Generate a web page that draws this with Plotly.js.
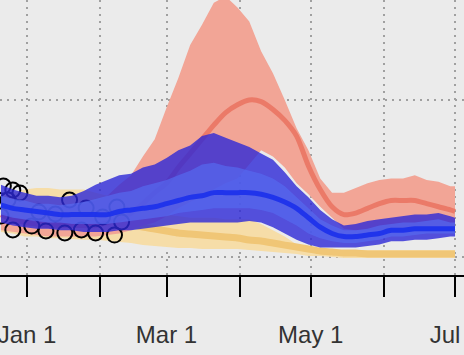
<!DOCTYPE html>
<html>
<head>
<meta charset="utf-8">
<script src="https://cdn.plot.ly/plotly-3.0.1.min.js"></script>
<style>html,body{margin:0;padding:0;background:#ebebeb;}#chart{width:464px;height:355px;}</style>
</head>
<body>
<div id="chart"></div>
<script>
const dates = ['2020-12-21','2020-12-26','2020-12-31','2021-01-05','2021-01-10','2021-01-15','2021-01-20','2021-01-25','2021-01-30','2021-02-04',
  '2021-02-09','2021-02-14','2021-02-19','2021-02-24','2021-03-01','2021-03-06','2021-03-11','2021-03-16','2021-03-21','2021-03-26',
  '2021-03-31','2021-04-05','2021-04-10','2021-04-15','2021-04-20','2021-04-25','2021-04-30','2021-05-05','2021-05-10','2021-05-15',
  '2021-05-20','2021-05-25','2021-05-30','2021-06-04','2021-06-09','2021-06-14','2021-06-19','2021-06-24','2021-06-29','2021-07-01'];

const redUpper = [33,32,31,31,32,32,33,34,36,39, 46,52,64,75,95,114,135,148,162,166, 159,150,131,117,100,82,68,50,41,41, 44,47,49,50,50,52,49,48,45,45];
const redMid   = [27,24,22,21,20,20,20,20,20,22, 24,28,34,41,47,57,66,75,84,92, 97,100,99,94,87,77,58,43,32,27, 28,31,34,36,36,36,34,32,30,29];
const redLower = [17,16,15,14,13,13,13,13,13,14, 15,17,20,22,26,31,35,39,43,47, 50,59,68,64,57,47,40,32,25,18, 17,17,17,17,17,17,17,17,17,17];

const blueUpper      = [46,43,41,39,39,38,39,42,46,49, 52,53,57,59,63,68,71,77,79,76, 73,70,66,62,54,45,38,30,24,20, 21,23,24,25,26,27,27,28,26,25];
const blueInnerUpper = [39,37,36,34,34,33,34,35,37,39, 41,42,45,47,49,52,55,59,60,58, 57,55,53,50,45,38,31,24,20,17, 17,18,20,21,22,22,23,24,22,22];
const blueMid        = [33,31,30,29,28,27,27,27,27,27, 29,30,31,32,34,36,38,39,41,41, 41,41,40,38,35,31,25,19,15,13, 13,14,15,17,17,18,18,18,18,18];
const blueInnerLower = [27,25,24,23,22,22,21,21,21,21, 22,23,24,25,26,28,29,30,31,31, 31,31,30,28,24,20,15,12,10,9, 9,10,11,13,13,14,15,15,15,15];
const blueLower      = [22,20,19,18,18,17,17,16,16,16, 17,17,18,19,20,21,22,22,22,22, 22,23,22,19,15,11,8,6,6,6, 6,7,8,10,10,11,11,12,13,13];

const yellowUpper = [39,41,43,44,44,43,43,43,41,39, 36,33,30,28,27,26,25,25,25,24, 24,24,21,17,13,8,6,4.5,4,4, 4,4.5,4.5,4.5,4.5,4.5,4.5,4.5,4.5,4.5];
const yellowMid   = [27,27,27,27,27,27,26,25.5,25,23.6, 22.3,21,19,17.8,16.6,15.3,14.7,14,13.4,12.7, 12.1,10.8,10.2,8.9,7.6,6.4,5.1,3.8,3.2,2.5, 2.5,1.9,1.9,1.9,1.9,1.9,1.9,1.9,1.9,1.9];
const yellowLower = [16,15,13,13,12,12,11.5,11,11,10, 9.6,8.9,7.6,7,6.4,5.7,5.7,5.1,5.1,5.1, 5.1,4.5,3.8,3.2,2.5,1.9,0.6,0.6,0,-0.6, -0.6,-0.6,-0.6,-0.6,-0.6,-0.6,-0.6,-0.6,-0.6,-0.6];

const obsDates  = ['2020-12-21','2020-12-22','2020-12-24','2020-12-26','2020-12-26','2020-12-29','2021-01-03','2021-01-06','2021-01-09','2021-01-13',
  '2021-01-17','2021-01-19','2021-01-24','2021-01-26','2021-01-30','2021-02-02','2021-02-07','2021-02-08','2021-02-10'];
const obsValues = [26.1,45.2,36.3,42.7,17.2,40.8,19.7,28.7,16.6,27.4, 15.3,36.3,17.2,31.2,15.3,25.5,14.0,31.8,22.3];

const tickDates  = ['2021-01-01','2021-02-01','2021-03-01','2021-04-01','2021-05-01','2021-06-01','2021-07-01'];
const tickLabels = ['Jan 1','','Mar 1','','May 1','','Jul 1'];
const gridValues = [0, 100];

function band(up, lo, color) {
  return {
    x: dates.concat(dates.slice().reverse()),
    y: up.concat(lo.slice().reverse()),
    type: 'scatter', mode: 'lines', fill: 'toself', fillcolor: color,
    line: {width: 0}, hoverinfo: 'skip'
  };
}
function mid(vals, color, w) {
  return {x: dates, y: vals, type: 'scatter', mode: 'lines',
    line: {color: color, width: w, shape: 'spline', smoothing: 0.8}, hoverinfo: 'skip'};
}

const traces = [
  band(yellowUpper, yellowLower, 'rgb(246,221,168)'),
  mid(yellowMid, 'rgb(240,198,118)', 7),
  band(redUpper, redLower, 'rgb(242,165,150)'),
  mid(redMid, 'rgb(235,122,104)', 5),
  {x: obsDates, y: obsValues, type: 'scatter', mode: 'markers',
   marker: {symbol: 'circle-open', size: 15, color: '#000', line: {width: 2, color: '#000'}}, hoverinfo: 'skip'},
  band(blueUpper, blueLower, 'rgba(45,40,215,0.8)'),
  band(blueInnerUpper, blueInnerLower, 'rgba(85,105,240,0.7)'),
  mid(blueMid, 'rgba(30,50,235,0.95)', 5)
];

const layout = {
  width: 464, height: 355,
  margin: {l: 0, r: 0, t: 0, b: 80, pad: 0},
  paper_bgcolor: '#ebebeb', plot_bgcolor: '#ebebeb',
  showlegend: false,
  xaxis: {
    type: 'date', range: ['2020-12-20 14:00', '2021-07-04 19:00'],
    tickmode: 'array', tickvals: tickDates, ticktext: tickLabels,
    ticks: 'outside', ticklen: 20, tickwidth: 2, tickcolor: '#000',
    showline: true, linecolor: '#000', linewidth: 2,
    showgrid: true, gridcolor: '#a0a0a0', gridwidth: 2, griddash: '2px,5px',
    tickfont: {size: 24, color: '#333', family: 'Liberation Sans, Arial, sans-serif'},
    ticklabeloverflow: 'allow', ticklabelstandoff: 17,
    zeroline: false, fixedrange: true
  },
  yaxis: {
    range: [-11.46, 163.7], tickmode: 'array', tickvals: gridValues,
    showticklabels: false, ticks: '',
    showgrid: true, gridcolor: '#a0a0a0', gridwidth: 2, griddash: '2px,5px',
    zeroline: false, showline: false, fixedrange: true
  }
};

Plotly.newPlot('chart', traces, layout, {displayModeBar: false, staticPlot: true});
</script>
</body>
</html>
